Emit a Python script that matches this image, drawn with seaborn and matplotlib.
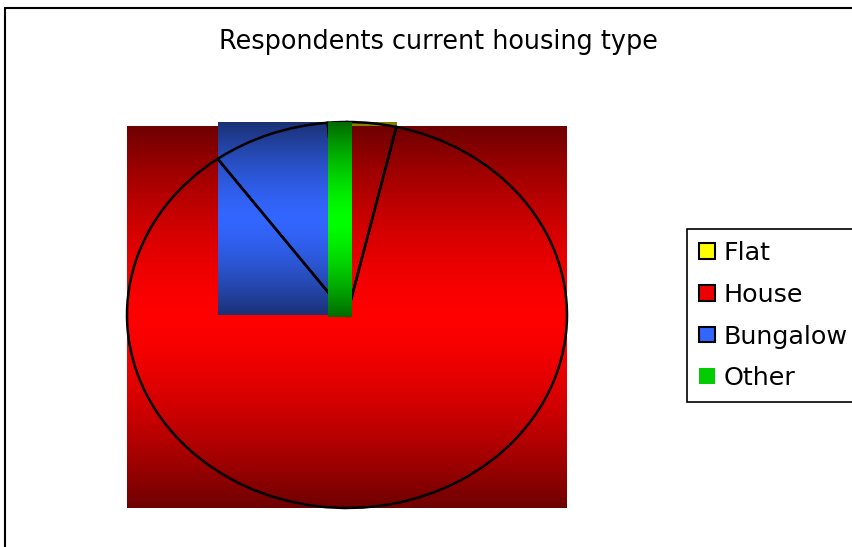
import numpy as np
import matplotlib
matplotlib.use("Agg")
import matplotlib.pyplot as plt
import seaborn as sns
from matplotlib.patches import Patch, Rectangle
from matplotlib.colors import to_rgb

# Survey shares by housing type (percent)
categories = ["Flat", "House", "Bungalow", "Other"]
shares = [3.6, 86.4, 8.6, 1.4]

# Gradient end colours for each slice: edge (dark) and centre (bright)
dark_colors = ["#7f7f00", "#6e0000", "#1b3174", "#006a00"]
light_colors = ["#ffff00", "#ff0000", "#3366ff", "#00ff00"]
legend_colors = ["#ffff00", "#ee0000", "#3366ff", "#00cc00"]

title = "Respondents current housing type"

sns.set_theme(style="white")
plt.rcParams["font.family"] = ["DejaVu Sans"]
plt.rcParams["text.color"] = "black"

W, H = 853, 547
fig = plt.figure(figsize=(W / 100, H / 100), dpi=100)
fig.patch.set_facecolor("white")

# Chart area border
fig.add_artist(Rectangle((5 / W, -0.1), 2.0, 1 - 8 / H + 0.1,
                         transform=fig.transFigure, fill=False,
                         edgecolor="black", linewidth=1.5))

fig.text(438 / W, 1 - 42 / H, title, ha="center", va="center",
         fontsize=18.4, color="black")

ax = fig.add_axes([127 / W, 1 - 508 / H, 440 / W, 386 / H])
wedges, _ = ax.pie(shares, startangle=90, counterclock=False, radius=1,
                   wedgeprops=dict(facecolor="none", edgecolor="black",
                                   linewidth=1.8))


def wedge_bbox(w):
    t1, t2 = w.theta1, w.theta2
    angs = [t1, t2]
    k0 = int(np.floor(t1 / 90.0))
    k1 = int(np.ceil(t2 / 90.0))
    for k in range(k0, k1 + 1):
        a = k * 90.0
        if t1 <= a <= t2:
            angs.append(a)
    xs = [0.0] + [np.cos(np.radians(a)) for a in angs]
    ys = [0.0] + [np.sin(np.radians(a)) for a in angs]
    return min(xs), max(xs), min(ys), max(ys)


def gradient(dark, light, n=400):
    t = np.linspace(0, 1, n)
    d = np.abs(2 * t - 1)
    f = 1 - d ** 1.5
    c0 = np.array(to_rgb(dark))
    c1 = np.array(to_rgb(light))
    img = c0[None, :] + f[:, None] * (c1 - c0)[None, :]
    return img[:, None, :]


fill_z = {"Flat": 1, "House": 2, "Bungalow": 3, "Other": 6}
for w, name, dk, lt in zip(wedges, categories, dark_colors, light_colors):
    x0, x1, y0, y1 = wedge_bbox(w)
    if name == "Other":
        x1 = x1 + 0.018  # slice fill runs just past the centre point
        y0 = y0 - 0.01
    ax.imshow(gradient(dk, lt), extent=(x0, x1, y0, y1), origin="upper",
              aspect="auto", interpolation="bilinear", zorder=fill_z[name])

for w in wedges:
    w.set_zorder(5)
    w.set_clip_on(False)

ax.set_xlim(-1, 1)
ax.set_ylim(-1, 1)
ax.set_aspect("auto")
ax.axis("off")

handles = []
for name, c in zip(categories, legend_colors):
    ec = "none" if name == "Other" else "black"
    handles.append(Patch(facecolor=c, edgecolor=ec, linewidth=1.5))

leg = fig.legend(handles, categories, loc="upper left",
                 bbox_to_anchor=(687 / W, 1 - 229 / H), frameon=True,
                 fancybox=False, shadow=False, framealpha=1,
                 edgecolor="black", fontsize=18.3, handlelength=0.62,
                 handleheight=0.58, handletextpad=0.35, labelspacing=0.70,
                 borderpad=0.47, borderaxespad=0)
leg.get_frame().set_linewidth(1.2)
for t in leg.get_texts():
    t.set_color("black")

fig.savefig("out.png", dpi=100, facecolor="white")
